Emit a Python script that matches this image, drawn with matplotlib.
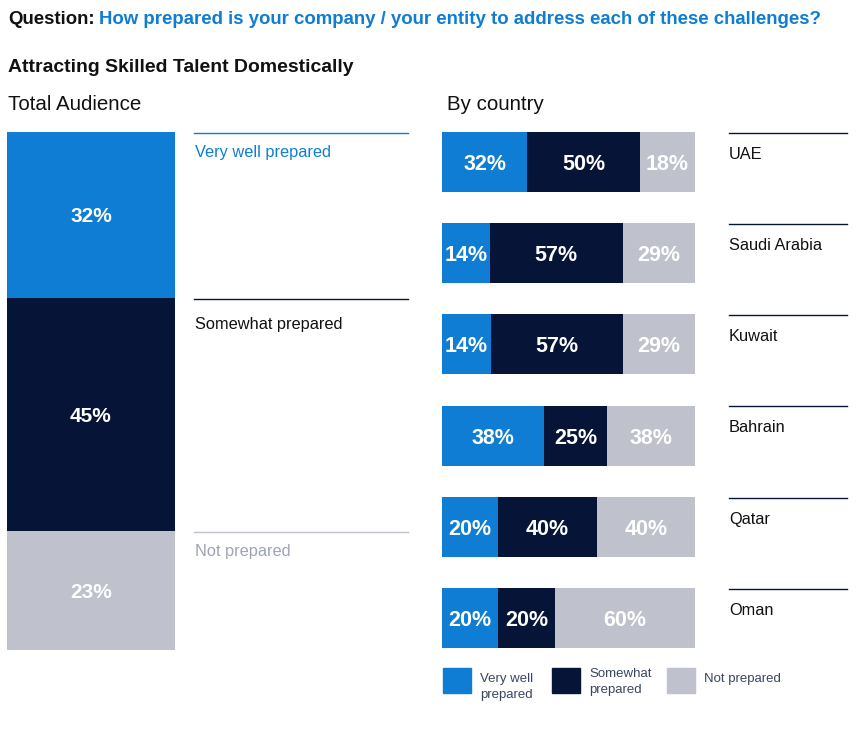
import numpy as np
import matplotlib.pyplot as plt
import matplotlib.transforms as mtransforms

# colours
BLUE = '#0e7dd3'
NAVY = '#061537'
GREY = '#bfc1cc'
TEXT = '#111111'

FONT = ['Liberation Sans', 'DejaVu Sans']

# total audience
levels = ['Very well prepared', 'Somewhat prepared', 'Not prepared']
total = [32, 45, 23]

# by country (labels as printed)
countries = ['UAE', 'Saudi Arabia', 'Kuwait', 'Bahrain', 'Qatar', 'Oman']
very_well = [32, 14, 14, 38, 20, 20]
somewhat = [50, 57, 57, 25, 40, 20]
not_prep = [18, 29, 29, 38, 40, 60]
# drawn segment lengths (bars are not to scale)
very_well_len = [33.7, 19.0, 19.4, 40.5, 22.2, 22.2]
somewhat_len = [44.4, 52.4, 52.0, 24.6, 38.9, 22.6]
not_prep_len = [21.9, 28.6, 28.6, 34.9, 38.9, 55.2]

W, H = 865, 734
fig = plt.figure(figsize=(W / 100, H / 100), dpi=100)
fig.patch.set_facecolor('white')
renderer = fig.canvas.get_renderer()


def fx(px):
    return px / W


def fy(py):
    return 1 - py / H


def fit_size(sample, px, weight='normal'):
    # font size at which sample is px wide
    t = fig.text(0, 0, sample, family=FONT, weight=weight, size=10)
    w = t.get_window_extent(renderer=renderer).width
    t.remove()
    return 10 * px / w


# headers
q1 = 'Question:'
q2 = 'How prepared is your company / your entity to address each of these challenges?'
s_q = fit_size(q1 + ' ' + q2, 818, 'bold')
t = fig.text(fx(8), fy(18), q1, family=FONT, weight='bold', size=s_q, color=TEXT,
             va='center_baseline')
x1 = t.get_window_extent(renderer=renderer).x1
fig.text(x1 / W + fx(4), fy(18), q2, family=FONT, weight='bold', size=s_q, color=BLUE,
         va='center_baseline')
sub = 'Attracting Skilled Talent Domestically'
fig.text(fx(8), fy(65), sub, family=FONT, weight='bold',
         size=fit_size(sub, 336, 'bold') * 1.03, color=TEXT, va='center_baseline')
s_h = fit_size('Total Audience', 129) * 1.04
fig.text(fx(8), fy(102), 'Total Audience', family=FONT, size=s_h, color=TEXT,
         va='center_baseline')
fig.text(fx(447), fy(102), 'By country', family=FONT, size=s_h, color=TEXT,
         va='center_baseline')

# left: total audience stacked column
axl = fig.add_axes([fx(7), fy(650), fx(168), 518 / H])
colors = [BLUE, NAVY, GREY]
bottoms = np.cumsum([0] + total[:-1])
axl.bar([0] * 3, total, bottom=bottoms, width=1.0, color=colors, linewidth=0)
axl.set_xlim(-0.5, 0.5)
axl.set_ylim(100, 0)
axl.axis('off')
for b, v in zip(bottoms, total):
    axl.text(0, b + v / 2, f'{v}%', ha='center', va='center_baseline', color='white',
             family=FONT, weight='bold', size=15)

# annotation lines with level names
trl = mtransforms.blended_transform_factory(fig.transFigure, axl.transData)
line_cols = [BLUE, NAVY, GREY]
text_cols = [BLUE, TEXT, '#9fa3b3']
gaps = [19, 25, 19]  # px from line to text centre
s_l = fit_size('Somewhat prepared', 142) * 1.04
for b, name, lc, tc, g in zip(bottoms, levels, line_cols, text_cols, gaps):
    axl.plot([fx(194), fx(408)], [b + 0.2, b + 0.2], transform=trl, color=lc, lw=1,
             clip_on=False)
    axl.text(fx(195), b + g * 100 / 518, name, transform=trl, color=tc, family=FONT,
             size=s_l, va='center_baseline', ha='left')

# right: by country
axr = fig.add_axes([fx(442), fy(663.6), fx(253), 547.2 / H])
y = np.arange(len(countries))
left = np.zeros(len(countries))
segs = [(very_well_len, very_well, BLUE), (somewhat_len, somewhat, NAVY),
        (not_prep_len, not_prep, GREY)]
for lens, labels, c in segs:
    lens = np.array(lens)
    axr.barh(y, lens, left=left, height=0.66, color=c, linewidth=0)
    for yi, l0, ln, lab in zip(y, left, lens, labels):
        axr.text(l0 + ln / 2, yi, f'{lab}%', ha='center', va='center_baseline',
                 color='white', family=FONT, weight='bold', size=15.5)
    left = left + lens
axr.set_xlim(0, 100)
axr.set_ylim(len(countries) - 0.5, -0.5)
axr.axis('off')

trr = mtransforms.blended_transform_factory(fig.transFigure, axr.transData)
s_c = fit_size('Saudi Arabia', 88) * 1.06
for yi, name in zip(y, countries):
    axr.plot([fx(729), fx(847)], [yi - 0.32, yi - 0.32], transform=trr, color=NAVY,
             lw=1, clip_on=False)
    axr.text(fx(729), yi - 0.1, name, transform=trr, color=TEXT, family=FONT,
             size=s_c, va='center_baseline', ha='left')

# legend
s_g = fit_size('Somewhat', 63)
leg = [('Very well\nprepared', BLUE, 443, 687), ('Somewhat\nprepared', NAVY, 552, 682),
       ('Not prepared', GREY, 667, 679)]
for lab, c, x0, yc in leg:
    fig.patches.append(plt.Rectangle((fx(x0), fy(693)), fx(28), 25 / H, color=c,
                                     transform=fig.transFigure, figure=fig))
    fig.text(fx(x0 + 37), fy(yc), lab, family=FONT, size=s_g, color='#3a4560',
             va='center', ha='left', linespacing=1.45)

fig.savefig('out.png', dpi=100)
